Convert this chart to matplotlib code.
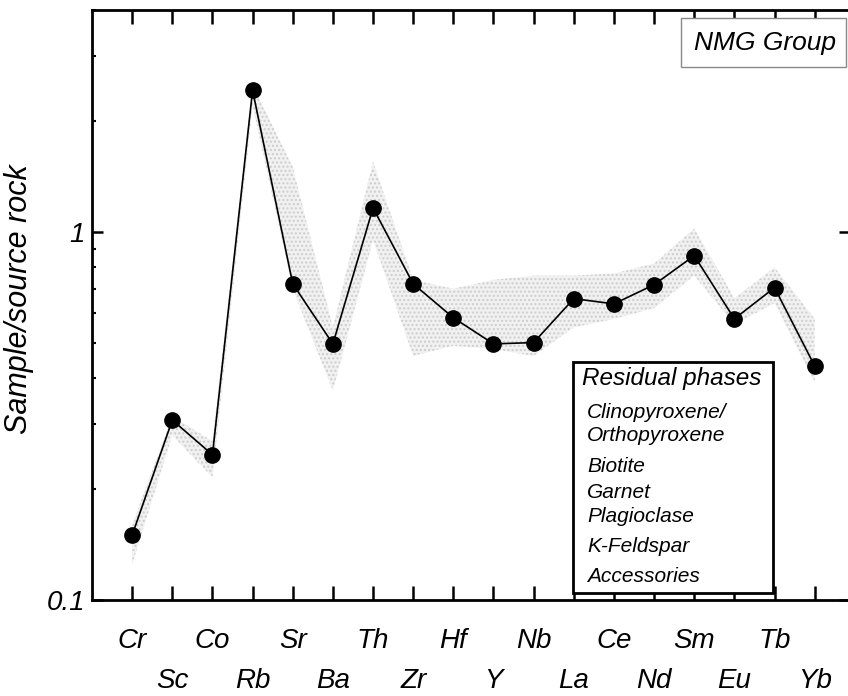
import matplotlib
matplotlib.use("Agg")
import matplotlib.pyplot as plt
from matplotlib.patches import Rectangle
import numpy as np

# element order on the x axis (first row / second row alternate)
elements = ['Cr', 'Sc', 'Co', 'Rb', 'Sr', 'Ba', 'Th', 'Zr', 'Hf', 'Y',
            'Nb', 'La', 'Ce', 'Nd', 'Sm', 'Eu', 'Tb', 'Yb']

# average sample / source rock ratio
ratio = [0.150, 0.308, 0.248, 2.42, 0.722, 0.496, 1.16, 0.722, 0.584, 0.496,
         0.500, 0.658, 0.637, 0.718, 0.861, 0.580, 0.705, 0.432]

# shaded range (upper / lower)
band_hi = [0.160, 0.315, 0.270, 2.50, 1.50, 0.55, 1.55, 0.74, 0.70, 0.74,
           0.76, 0.76, 0.77, 0.82, 1.02, 0.66, 0.80, 0.58]
band_lo = [0.125, 0.280, 0.215, 2.20, 0.70, 0.37, 0.95, 0.46, 0.49, 0.48,
           0.46, 0.55, 0.58, 0.62, 0.76, 0.56, 0.64, 0.39]

group_name = 'NMG Group'
residual_title = 'Residual phases'
residual_phases = ['Clinopyroxene/', 'Orthopyroxene', 'Biotite', 'Garnet',
                   'Plagioclase', 'K-Feldspar', 'Accessories']

plt.rcParams['font.family'] = ['Liberation Sans', 'DejaVu Sans']

W, H = 848, 696
fig = plt.figure(figsize=(W / 100, H / 100), dpi=100)
ax = fig.add_axes([92 / W, 1 - 600 / H, (850 - 92) / W, (600 - 10) / H])

x = np.arange(1, len(elements) + 1)

# stippled range band
ax.fill_between(x, band_lo, band_hi, facecolor='#f1f1f1', edgecolor='#cdcdcd',
                hatch='....', linewidth=0, zorder=1)
ax.plot(x, ratio, color='black', linewidth=1.2, zorder=2)
ax.plot(x, ratio, 'o', color='black', markersize=11, zorder=3)

ax.set_yscale('log')
ax.set_ylim(0.1, 4.0)
ax.set_xlim(0, 18.88)

# y ticks
ax.set_yticks([0.1, 1])
ax.set_yticklabels(['0.1', '1'], fontsize=20, style='italic')
ax.yaxis.set_minor_locator(matplotlib.ticker.LogLocator(base=10, subs=np.arange(2, 10)))
ax.yaxis.set_minor_formatter(matplotlib.ticker.NullFormatter())
ax.tick_params(axis='y', which='major', direction='in', length=8, width=1.8,
               left=True, right=True, pad=5)
ax.tick_params(axis='y', which='minor', direction='in', length=3, width=1.5,
               left=True, right=False)

# x ticks: odd elements on the first row, even ones on the second row
ax.set_xticks(x[0::2])
ax.set_xticklabels(elements[0::2], fontsize=20, style='italic')
ax.set_xticks(x[1::2], minor=True)
ax.set_xticklabels(elements[1::2], minor=True, fontsize=20, style='italic')
ax.tick_params(axis='x', which='both', direction='in', length=10, width=1.8,
               top=True, bottom=True)
ax.tick_params(axis='x', which='major', pad=20)
ax.tick_params(axis='x', which='minor', pad=49)

for sp in ax.spines.values():
    sp.set_linewidth(2)

ax.set_ylabel('Sample/source rock', fontsize=22, style='italic')
ax.yaxis.set_label_coords(-0.077, 0.51)

# group label box
fig.patches.append(Rectangle((681 / W, 1 - 67 / H), (846 - 681) / W, (67 - 18) / H,
                             transform=fig.transFigure, facecolor='white',
                             edgecolor='#888888', linewidth=1, zorder=5))
fig.text(765 / W, 1 - 43 / H, group_name, fontsize=19, style='italic',
         ha='center', va='center', zorder=6)

# residual phases box
fig.patches.append(Rectangle((573 / W, 1 - 593 / H), (773 - 573) / W, (593 - 362) / H,
                             transform=fig.transFigure, facecolor='white',
                             edgecolor='black', linewidth=2, zorder=5))
fig.text(672 / W, 1 - 378 / H, residual_title, fontsize=17.5, style='italic',
         ha='center', va='center', zorder=6)
phase_y = [412, 436, 466, 492, 517, 547, 577]
for name, py in zip(residual_phases, phase_y):
    fig.text(587 / W, 1 - py / H, name, fontsize=15, style='italic',
             ha='left', va='center', zorder=6)

fig.savefig('out.png', dpi=100)
